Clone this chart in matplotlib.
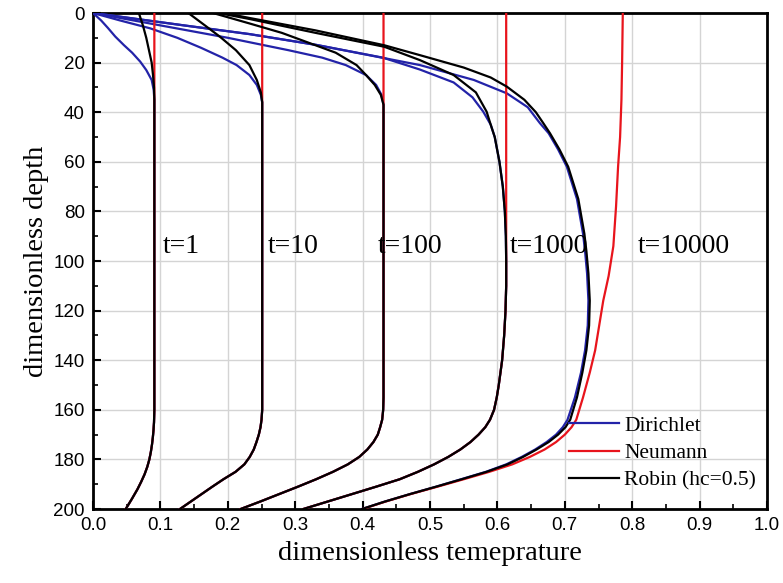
import matplotlib
matplotlib.use("Agg")
import matplotlib.pyplot as plt
from matplotlib.ticker import MultipleLocator

# ---------------- data (temperature x, depth d) ----------------
# t = 1
t1_low_d = [35, 100, 160, 165, 168, 171, 174, 177, 180, 183, 186, 189, 192, 196, 200]
t1_low_x = [0.091, 0.091, 0.091, 0.0905, 0.0898, 0.0888, 0.0875, 0.0858, 0.0836, 0.0805,
            0.0765, 0.0715, 0.066, 0.0575, 0.0485]
t1_rob_d = [0, 5, 10, 15, 20, 25, 30]
t1_rob_x = [0.068, 0.074, 0.079, 0.083, 0.087, 0.089, 0.0905]
t1_dir_d = [0, 3, 6, 9.5, 13, 16, 19.6, 23, 27, 31]
t1_dir_x = [0, 0.012, 0.022, 0.033, 0.046, 0.058, 0.070, 0.079, 0.087, 0.090]
t1_neu_d = [0, 35]
t1_neu_x = [0.091, 0.091]

# t = 10
t10_low_d = [36, 100, 160, 164, 167, 170, 173, 176, 179, 182, 185, 188, 191, 194, 197, 200]
t10_low_x = [0.251, 0.251, 0.251, 0.250, 0.2485, 0.246, 0.2425, 0.2385, 0.2325, 0.2245,
             0.2115, 0.1935, 0.177, 0.161, 0.145, 0.129]
t10_rob_d = [0, 5, 9.5, 15, 21, 27, 32]
t10_rob_x = [0.1414, 0.166, 0.188, 0.212, 0.232, 0.243, 0.249]
t10_dir_d = [0, 3, 6.2, 10, 14, 18, 21, 25, 29, 33]
t10_dir_x = [0, 0.040, 0.085, 0.125, 0.160, 0.192, 0.213, 0.232, 0.243, 0.249]
t10_neu_d = [0, 36]
t10_neu_x = [0.251, 0.251]

# t = 100
t100_low_d = [37, 100, 155, 160, 164, 167, 170, 173, 176, 179, 182, 185, 188, 191, 194, 197, 200]
t100_low_x = [0.431, 0.431, 0.431, 0.4305, 0.429, 0.426, 0.4225, 0.416, 0.407, 0.395, 0.378,
              0.356, 0.331, 0.304, 0.276, 0.248, 0.219]
t100_rob_d = [0, 4.2, 8, 12, 16, 21, 25, 29, 33]
t100_rob_x = [0.178, 0.232, 0.280, 0.320, 0.360, 0.391, 0.405, 0.418, 0.427]
t100_dir_d = [0, 5, 10, 15, 18, 21, 25, 29, 33]
t100_dir_x = [0, 0.100, 0.200, 0.290, 0.340, 0.375, 0.405, 0.420, 0.428]
t100_neu_d = [0, 37]
t100_neu_x = [0.431, 0.431]

# t = 1000
t1000_low_d = [45, 50, 60, 70, 80, 90, 100, 110, 120, 130, 140, 150, 155, 160, 164, 167, 170,
               173, 176, 179, 182, 185, 188, 191, 194, 197, 200]
t1000_low_x = [0.590, 0.596, 0.603, 0.608, 0.611, 0.6125, 0.613, 0.613, 0.612, 0.610, 0.607,
               0.602, 0.599, 0.595, 0.589, 0.582, 0.572, 0.560, 0.545, 0.527, 0.506, 0.482,
               0.455, 0.420, 0.384, 0.348, 0.312]
t1000_rob_d = [0, 2.4, 8, 13.6, 19, 25, 32, 39.8]
t1000_rob_x = [0.186, 0.232, 0.330, 0.432, 0.485, 0.535, 0.568, 0.584]
t1000_dir_d = [0, 5, 8.5, 12.9, 18, 22.8, 28, 34, 39.8]
t1000_dir_x = [0, 0.135, 0.232, 0.332, 0.430, 0.485, 0.535, 0.563, 0.579]
t1000_neu_d = [0, 100]
t1000_neu_x = [0.613, 0.613]

# t = 10000
t10000_dir_d = [0, 5, 8.5, 12.9, 21, 27, 32.4, 38, 44.4, 48.5, 55, 62, 75, 89, 96, 105, 116, 126,
                136, 145, 155, 164, 167, 170, 173, 176, 179, 182, 185, 188, 191, 194, 197, 200]
t10000_dir_x = [0, 0.135, 0.232, 0.332, 0.485, 0.565, 0.614, 0.645, 0.663, 0.676, 0.690, 0.703,
                0.718, 0.727, 0.730, 0.733, 0.735, 0.734, 0.730, 0.724, 0.715, 0.704, 0.697,
                0.687, 0.673, 0.656, 0.636, 0.613, 0.583, 0.546, 0.509, 0.470, 0.433, 0.399]
t10000_rob_d = [0, 2, 7, 13, 17, 22, 26, 29.7, 35, 40, 44.4, 48.5, 55, 62, 75, 89, 96, 105, 116,
                126, 136, 145, 155, 164, 167, 170, 173, 176, 179, 182, 185, 188, 191, 194, 197, 200]
t10000_rob_x = [0.195, 0.232, 0.330, 0.432, 0.485, 0.550, 0.590, 0.614, 0.640, 0.657, 0.668, 0.678,
                0.692, 0.705, 0.720, 0.729, 0.732, 0.735, 0.737, 0.736, 0.732, 0.726, 0.718, 0.708,
                0.701, 0.690, 0.676, 0.658, 0.638, 0.615, 0.584, 0.547, 0.509, 0.470, 0.433, 0.399]
t10000_neu_d = [0, 20, 35, 50, 62, 78, 94, 106, 116, 126, 136, 145, 155, 164, 167, 170, 173, 176,
                179, 182, 185, 188, 191, 194, 197, 200]
t10000_neu_x = [0.786, 0.785, 0.784, 0.782, 0.779, 0.776, 0.772, 0.765, 0.757, 0.751, 0.745,
                0.737, 0.727, 0.717, 0.710, 0.700, 0.687, 0.670, 0.648, 0.622, 0.588, 0.550,
                0.511, 0.471, 0.434, 0.400]

time_labels = ["t=1", "t=10", "t=100", "t=1000", "t=10000"]
label_x = [0.104, 0.26, 0.423, 0.619, 0.809]
label_d = [94, 94, 94, 94, 94]

x_ticks = [0.0, 0.1, 0.2, 0.3, 0.4, 0.5, 0.6, 0.7, 0.8, 0.9, 1.0]
y_ticks = [0, 20, 40, 60, 80, 100, 120, 140, 160, 180, 200]
legend_names = ["Dirichlet", "Neumann", "Robin (hc=0.5)"]

BLUE = "#2323a8"
RED = "#e8141c"
BLACK = "#000000"
SERIF = "Liberation Serif"

fig = plt.figure(figsize=(7.83, 5.83), dpi=100)
ax = fig.add_axes([0.1188, 0.1269, 0.8608, 0.8508])

lw = 1.6
groups = [
    (t1_low_x, t1_low_d, t1_dir_x, t1_dir_d, t1_neu_x, t1_neu_d, t1_rob_x, t1_rob_d),
    (t10_low_x, t10_low_d, t10_dir_x, t10_dir_d, t10_neu_x, t10_neu_d, t10_rob_x, t10_rob_d),
    (t100_low_x, t100_low_d, t100_dir_x, t100_dir_d, t100_neu_x, t100_neu_d, t100_rob_x, t100_rob_d),
    (t1000_low_x, t1000_low_d, t1000_dir_x, t1000_dir_d, t1000_neu_x, t1000_neu_d, t1000_rob_x, t1000_rob_d),
]


def join(top_x, top_d, low_x, low_d):
    xs = list(top_x)
    ds = list(top_d)
    for x, d in zip(low_x, low_d):
        if d > top_d[-1]:
            xs.append(x)
            ds.append(d)
    return xs, ds


for lx, ld, dx, dd, nx, nd, rx, rd in groups:
    ax.plot(*join(dx, dd, lx, ld), color=BLUE, lw=lw, zorder=3, solid_joinstyle="round")
    ax.plot(*join(nx, nd, lx, ld), color=RED, lw=lw, zorder=4, solid_joinstyle="round")
    ax.plot(*join(rx, rd, lx, ld), color=BLACK, lw=lw, zorder=5, solid_joinstyle="round")

ax.plot(t10000_dir_x, t10000_dir_d, color=BLUE, lw=lw, zorder=3, solid_joinstyle="round")
ax.plot(t10000_neu_x, t10000_neu_d, color=RED, lw=lw, zorder=4, solid_joinstyle="round")
ax.plot(t10000_rob_x, t10000_rob_d, color=BLACK, lw=lw, zorder=5, solid_joinstyle="round")

# legend proxies
h1, = ax.plot([], [], color=BLUE, lw=lw)
h2, = ax.plot([], [], color=RED, lw=lw)
h3, = ax.plot([], [], color=BLACK, lw=lw)
ax.legend([h1, h2, h3], legend_names, loc="lower right", frameon=False,
          prop={"family": SERIF, "size": 15.5}, handlelength=2.3,
          handletextpad=0.25, labelspacing=0.35, borderaxespad=0.1,
          bbox_to_anchor=(1.0, 0.015))

for lab, lxp, ldp in zip(time_labels, label_x, label_d):
    ax.text(lxp, ldp, lab, fontsize=20, family=SERIF, va="center", ha="left", zorder=6)

ax.set_xlim(0, 1.0)
ax.set_ylim(200, 0)
ax.set_xticks(x_ticks)
ax.set_yticks(y_ticks)
ax.set_xticklabels([f"{v:.1f}" for v in x_ticks])
ax.set_yticklabels([str(v) for v in y_ticks])
ax.xaxis.set_minor_locator(MultipleLocator(0.05))
ax.yaxis.set_minor_locator(MultipleLocator(10))
ax.tick_params(which="major", direction="in", length=6, width=1.5, labelsize=13.5,
               top=False, right=False, pad=6)
ax.tick_params(which="minor", direction="in", length=3.5, width=1.2, top=False, right=False)
for lbl in ax.get_xticklabels() + ax.get_yticklabels():
    lbl.set_family("Liberation Sans")
ax.grid(True, which="major", color="#d4d4d4", lw=1.0, zorder=0)
ax.set_axisbelow(True)
for s in ax.spines.values():
    s.set_linewidth(2.0)

ax.set_xlabel("dimensionless temeprature", family=SERIF, fontsize=20.5, labelpad=5)
ax.set_ylabel("dimensionless depth", family=SERIF, fontsize=20.5, labelpad=3)

fig.savefig("out.png", dpi=100)
